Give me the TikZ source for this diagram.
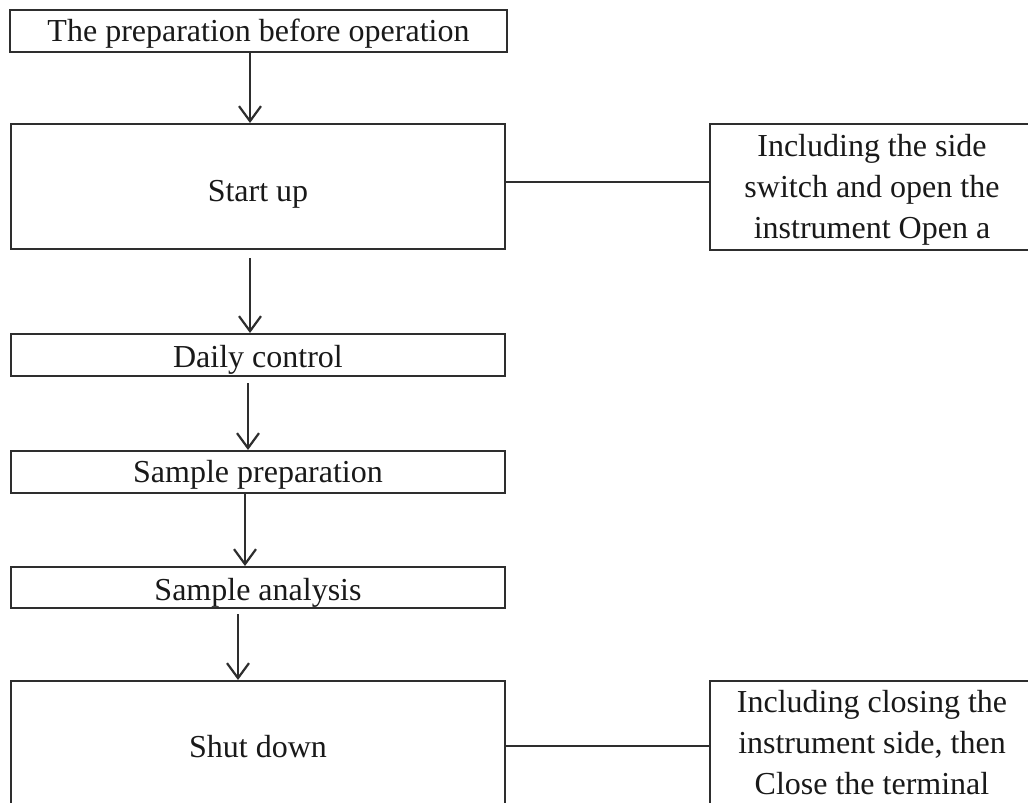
\documentclass[tikz,border=0pt]{standalone}
\usepackage{fontspec}
\setmainfont{Liberation Serif}
\usetikzlibrary{arrows.meta}
\definecolor{ink}{gray}{0.18}
\newcommand{\dn}[2]{\raisebox{-#1pt}[\height][\depth]{#2}}
\begin{document}
\begin{tikzpicture}[x=1pt,y=-1pt,
  box/.style={draw=ink, line width=2pt, rectangle, inner sep=0pt,
    font=\fontsize{32}{41}\selectfont, text=black!90, align=center},
  arr/.style={draw=ink, line width=2pt, -{Straight Barb[length=15pt,width=22pt,line width=2.2pt]}},
  link/.style={draw=ink, line width=1.8pt}]
\useasboundingbox (0,0) rectangle (1028,803);
\clip (0,0) rectangle (1028,803);
\fill[white] (0,0) rectangle (1028,803);
\node[box, minimum width=497pt, minimum height=42pt] (b1) at (258.5,31) {\dn{3}{The preparation before operation}};
\node[box, minimum width=494pt, minimum height=125pt] (b2) at (258,186.5) {\dn{8}{Start up}};
\node[box, minimum width=494pt, minimum height=42pt] (b3) at (258,355) {\dn{5}{Daily control}};
\node[box, minimum width=494pt, minimum height=42pt] (b4) at (258,472) {\dn{3}{Sample preparation}};
\node[box, minimum width=494pt, minimum height=41pt] (b5) at (258,587.5) {\dn{5}{Sample analysis}};
\node[box, minimum width=494pt, minimum height=132pt] (b6) at (258,747) {Shut down};
\node[box, minimum width=324pt, minimum height=126pt] (r1) at (872,187) {\dn{2}{\begin{tabular}{@{}c@{}}Including the side\\switch and open the\\instrument Open a\end{tabular}}};
\node[box, minimum width=324pt, minimum height=124pt] (r2) at (872,743) {Including closing the\\instrument side, then\\Close the terminal};
\coordinate (x1) at (250,0);
\coordinate (x2) at (250,0);
\coordinate (x3) at (248,0);
\coordinate (x4) at (245,0);
\coordinate (x5) at (238,0);
\draw[arr] (b1.south -| x1) -- (b2.north -| x1);
\draw[arr, shorten <=8pt] (b2.south -| x2) -- (b3.north -| x2);
\draw[arr, shorten <=6pt] (b3.south -| x3) -- (b4.north -| x3);
\draw[arr] (b4.south -| x4) -- (b5.north -| x4);
\draw[arr, shorten <=5pt] (b5.south -| x5) -- (b6.north -| x5);
\draw[link] (b2.east |- 0,182) -- (r1.west |- 0,182);
\draw[link] (b6.east |- 0,746) -- (r2.west |- 0,746);
\end{tikzpicture}
\end{document}
